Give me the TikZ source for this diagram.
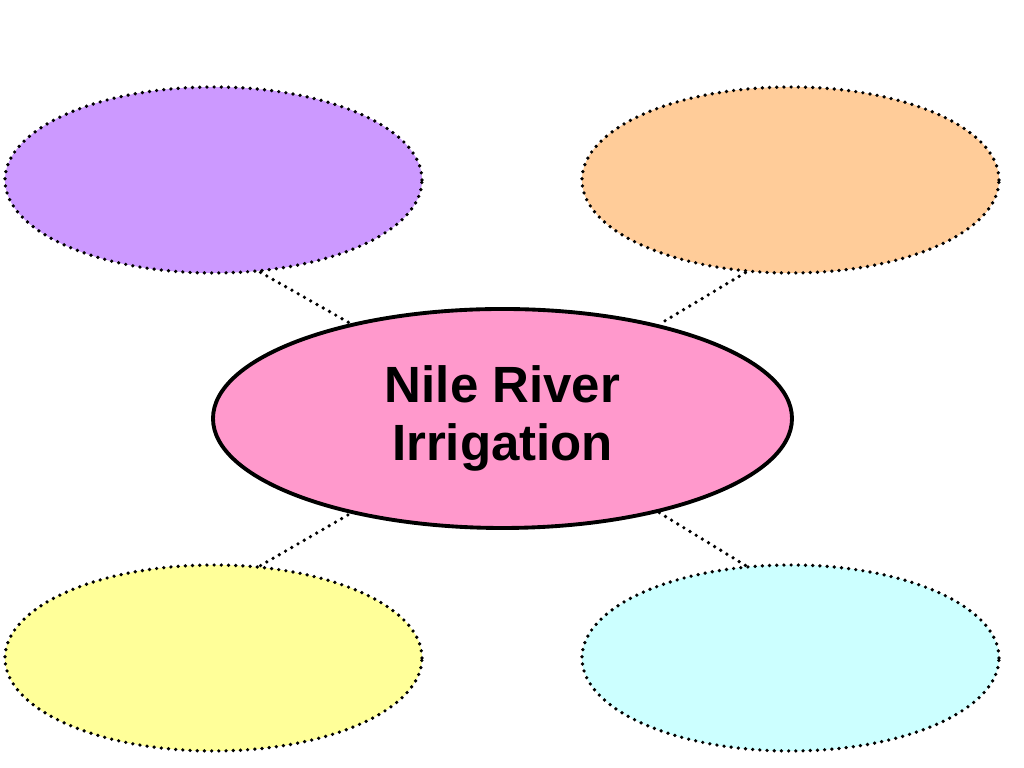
\documentclass[tikz,border=0pt]{standalone}
\usepackage{fontspec}
\setmainfont{Liberation Sans}
\usepackage{tikz}
\usetikzlibrary{shapes.geometric, positioning}
\usepackage{xcolor}
\definecolor{lilac}{HTML}{CC99FF}
\definecolor{peach}{HTML}{FFCC99}
\definecolor{rose}{HTML}{FF99CC}
\definecolor{lemon}{HTML}{FFFF99}
\definecolor{ice}{HTML}{CCFFFF}

\begin{document}
\begin{tikzpicture}[
		dots/.style = {line width=2.1pt, line cap=round, dash pattern=on 0pt off 4.1pt},
		bubble/.style = {ellipse, draw, dots, inner sep=0pt, minimum width=8.34cm, minimum height=3.72cm},
		hub/.style = {ellipse, draw, line width=2.2pt, inner sep=0pt, minimum width=11.58cm, minimum height=4.38cm,
			font=\fontsize{29}{33}\selectfont\bfseries, align=center}]
		\useasboundingbox (0cm,0cm) rectangle (20.48cm,15.36cm);
		\draw (10.05cm, 6.99cm) node[hub, fill=rose] (nile) {Nile River\\Irrigation}
		(4.27cm, 11.76cm) node[bubble, fill=lilac] (tl) {}
		(15.81cm, 11.76cm) node[bubble, fill=peach] (tr) {}
		(4.27cm, 2.2cm) node[bubble, fill=lemon] (bl) {}
		(15.81cm, 2.2cm) node[bubble, fill=ice] (br) {};
		
		\draw[dots] (tl.-63.9) -- (nile.148.9);
		\draw[dots] (tr.-116.1) -- (nile.31.1);
		\draw[dots] (bl.63.9) -- (nile.-148.9);
		\draw[dots] (br.116.1) -- (nile.-31.1);
	\end{tikzpicture}
\end{document}
